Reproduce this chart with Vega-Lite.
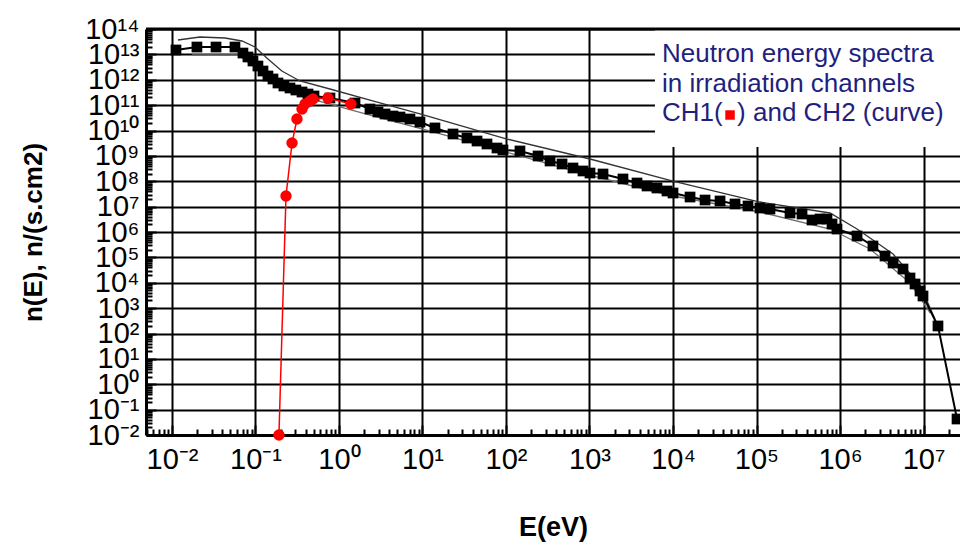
{
  "$schema": "https://vega.github.io/schema/vega-lite/v6.json",
  "width": 814,
  "height": 406,
  "autosize": {"type": "none"},
  "padding": {"left": 146, "top": 29, "right": 0, "bottom": 110},
  "background": "white",
  "config": {"view": {"stroke": null}, "font": "Liberation Sans"},
  "datasets": {
    "ch1": [
      {"E": 0.01117, "n": 1.49e13}, {"E": 0.0199, "n": 1.95e13}, {"E": 0.0337, "n": 1.95e13}, {"E": 0.0568, "n": 1.95e13},
      {"E": 0.0708, "n": 1.13e13}, {"E": 0.0813, "n": 7.89e12}, {"E": 0.0933, "n": 5.48e12}, {"E": 0.107, "n": 3.48e12},
      {"E": 0.123, "n": 2.21e12}, {"E": 0.141, "n": 1.41e12}, {"E": 0.162, "n": 1.07e12}, {"E": 0.186, "n": 7.45e11},
      {"E": 0.219, "n": 5.67e11}, {"E": 0.259, "n": 4.73e11}, {"E": 0.305, "n": 3.94e11}, {"E": 0.361, "n": 3.29e11},
      {"E": 0.426, "n": 2.74e11}, {"E": 0.502, "n": 2.29e11}, {"E": 0.78, "n": 1.91e11}, {"E": 1.556, "n": 1.21e11},
      {"E": 2.35, "n": 7.03e10}, {"E": 2.93, "n": 5.36e10}, {"E": 3.56, "n": 4.47e10}, {"E": 4.43, "n": 3.72e10},
      {"E": 5.38, "n": 3.4e10}, {"E": 7.08, "n": 2.84e10}, {"E": 9.33, "n": 2.16e10}, {"E": 14.1, "n": 1.26e10},
      {"E": 23.2, "n": 7.28e9}, {"E": 34.1, "n": 5.06e9}, {"E": 45.0, "n": 3.85e9}, {"E": 59.2, "n": 2.94e9},
      {"E": 78.0, "n": 2.04e9}, {"E": 92.0, "n": 1.71e9}, {"E": 147, "n": 1.56e9}, {"E": 242, "n": 9.9e8},
      {"E": 337, "n": 6.28e8}, {"E": 469, "n": 4.79e8}, {"E": 634, "n": 3.33e8}, {"E": 836, "n": 2.54e8},
      {"E": 1014, "n": 2.11e8}, {"E": 1452, "n": 1.93e8}, {"E": 2518, "n": 1.23e8}, {"E": 3706, "n": 8.53e7},
      {"E": 4887, "n": 6.5e7}, {"E": 6427, "n": 5.42e7}, {"E": 8472, "n": 4.13e7}, {"E": 10000, "n": 3.44e7},
      {"E": 16000, "n": 2.39e7}, {"E": 24200, "n": 1.82e7}, {"E": 36600, "n": 1.67e7}, {"E": 55300, "n": 1.27e7},
      {"E": 79100, "n": 1.06e7}, {"E": 110000, "n": 8.83e6}, {"E": 145000, "n": 8.05e6}, {"E": 252000, "n": 5.61e6},
      {"E": 351000, "n": 5.12e6}, {"E": 462000, "n": 2.97e6}, {"E": 576000, "n": 3.25e6}, {"E": 698000, "n": 3.25e6},
      {"E": 802000, "n": 2.07e6}, {"E": 920000, "n": 1.31e6}, {"E": 1600000, "n": 6.95e5}, {"E": 2480000, "n": 2.81e5},
      {"E": 3460000, "n": 1.13e5}, {"E": 4320000, "n": 6.0e4}, {"E": 5680000, "n": 3.48e4}, {"E": 6890000, "n": 1.54e4},
      {"E": 7910000, "n": 8930}, {"E": 9080000, "n": 4730}, {"E": 9860000, "n": 3000}, {"E": 14900000, "n": 198},
      {"E": 25200000, "n": 0.0427}
    ],
    "band": [
      {"curve": "upper", "E": 0.0118, "n": 3.69e13}, {"curve": "upper", "E": 0.0216, "n": 4.84e13},
      {"curve": "upper", "E": 0.0432, "n": 4.42e13}, {"curve": "upper", "E": 0.0689, "n": 3.37e13},
      {"curve": "upper", "E": 0.0986, "n": 1.95e13}, {"curve": "upper", "E": 0.141, "n": 6.58e12},
      {"curve": "upper", "E": 0.207, "n": 2.21e12}, {"curve": "upper", "E": 0.341, "n": 8.93e11},
      {"curve": "upper", "E": 0.78, "n": 4.32e11}, {"curve": "upper", "E": 2.35, "n": 1.59e11},
      {"curve": "upper", "E": 9.33, "n": 4.47e10}, {"curve": "upper", "E": 103, "n": 4.62e9},
      {"curve": "upper", "E": 1014, "n": 7.53e8}, {"curve": "upper", "E": 10000, "n": 1.02e8},
      {"curve": "upper", "E": 110000, "n": 1.52e7}, {"curve": "upper", "E": 759000, "n": 5.61e6},
      {"curve": "upper", "E": 1600000, "n": 1.31e6}, {"curve": "upper", "E": 4320000, "n": 1.36e5},
      {"curve": "upper", "E": 9080000, "n": 8150}, {"curve": "upper", "E": 13700000, "n": 372},
      {"curve": "lower", "E": 0.0174, "n": 9.45e12}, {"curve": "lower", "E": 0.0616, "n": 9.45e12},
      {"curve": "lower", "E": 0.0986, "n": 3.18e12}, {"curve": "lower", "E": 0.171, "n": 7.45e11},
      {"curve": "lower", "E": 0.341, "n": 2.29e11}, {"curve": "lower", "E": 2.35, "n": 4.08e10},
      {"curve": "lower", "E": 13.4, "n": 8.73e9}, {"curve": "lower", "E": 147, "n": 9.89e8},
      {"curve": "lower", "E": 1100, "n": 1.61e8}, {"curve": "lower", "E": 10000, "n": 2.62e7},
      {"curve": "lower", "E": 110000, "n": 6.14e6}, {"curve": "lower", "E": 759000, "n": 1.31e6},
      {"curve": "lower", "E": 2290000, "n": 2.14e5}, {"curve": "lower", "E": 6890000, "n": 9770},
      {"curve": "lower", "E": 12000000, "n": 643}
    ],
    "red": [
      {"E": 0.191, "n": 0.01}, {"E": 0.232, "n": 2.62e7}, {"E": 0.274, "n": 3.21e9}, {"E": 0.314, "n": 2.84e10},
      {"E": 0.361, "n": 7.03e10}, {"E": 0.392, "n": 1.11e11}, {"E": 0.45, "n": 1.46e11}, {"E": 0.489, "n": 1.74e11},
      {"E": 0.738, "n": 1.91e11}, {"E": 1.39, "n": 1.11e11}
    ],
    "note": [
      {"text": ["Neutron energy spectra", "\u00a0in irradiation channels", "CH1(\u00a0\u00a0) and CH2 (curve)"]}
    ]
  },
  "layer": [
    {
      "data": {"name": "band"},
      "mark": {"type": "line", "strokeWidth": 1.3},
      "encoding": {
        "x": {
          "field": "E", "type": "quantitative",
          "scale": {"type": "log", "domain": [0.004887, 27350000], "nice": false},
          "axis": {
            "title": "E(eV)",
            "titleFont": "Liberation Sans", "titleFontSize": 27, "titleFontWeight": "bold", "titleColor": "black",
            "titleX": 407, "titleY": 100, "titleBaseline": "alphabetic", "titleAlign": "center",
            "tickCount": 80,
            "labelExpr": "abs(log(datum.value)/LN10 - round(log(datum.value)/LN10)) < 0.001 ? '10' + ['⁻³','⁻²','⁻¹','⁰','¹','²','³','⁴','⁵','⁶','⁷','⁸','⁹','¹⁰','¹¹','¹²','¹³','¹⁴'][round(log(datum.value)/LN10)+3] : ''",
            "labelFont": "Liberation Sans", "labelFontSize": 29, "labelColor": "black",
            "labelOverlap": false, "labelFlush": false, "labelBound": false,
            "labelPadding": 20,
            "domainColor": "black", "domainWidth": 3,
            "tickColor": "black",
            "tickSize": {"condition": {"test": "abs(log(datum.value)/LN10 - round(log(datum.value)/LN10)) < 0.001", "value": -10}, "value": -6},
            "tickWidth": 2,
            "grid": true, "gridColor": "black", "gridWidth": 2,
            "gridOpacity": {"condition": {"test": "abs(log(datum.value)/LN10 - round(log(datum.value)/LN10)) < 0.001", "value": 1}, "value": 0}
          }
        },
        "y": {
          "field": "n", "type": "quantitative",
          "scale": {"type": "log", "domain": [0.01, 1e14], "nice": false},
          "axis": {
            "title": "n(E), n/(s.cm2)",
            "titleFont": "Liberation Sans", "titleFontSize": 26, "titleFontWeight": "bold", "titleColor": "black",
            "titleX": -100, "titleY": 203, "titleAngle": -90, "titleAlign": "center", "titleBaseline": "bottom",
            "tickCount": 100,
            "labelExpr": "abs(log(datum.value)/LN10 - round(log(datum.value)/LN10)) < 0.001 ? '10' + ['⁻³','⁻²','⁻¹','⁰','¹','²','³','⁴','⁵','⁶','⁷','⁸','⁹','¹⁰','¹¹','¹²','¹³','¹⁴'][round(log(datum.value)/LN10)+3] : ''",
            "labelFont": "Liberation Sans", "labelFontSize": 29, "labelColor": "black",
            "labelOverlap": false, "labelFlush": false, "labelBound": false,
            "labelPadding": 17,
            "domainColor": "black", "domainWidth": 3,
            "tickColor": "black",
            "tickSize": {"condition": {"test": "abs(log(datum.value)/LN10 - round(log(datum.value)/LN10)) < 0.001", "value": -10}, "value": -6},
            "tickWidth": 2,
            "grid": true, "gridColor": "black", "gridWidth": 2,
            "gridOpacity": {"condition": {"test": "abs(log(datum.value)/LN10 - round(log(datum.value)/LN10)) < 0.001", "value": 1}, "value": 0}
          }
        },
        "color": {"field": "curve", "type": "nominal", "scale": {"domain": ["upper", "lower"], "range": ["#333333", "#6e6e6e"]}, "legend": null}
      }
    },
    {
      "data": {"name": "ch1"},
      "mark": {"type": "line", "color": "black", "strokeWidth": 2, "point": {"shape": "square", "size": 115, "filled": true, "color": "black", "opacity": 1}},
      "encoding": {
        "x": {"field": "E", "type": "quantitative", "scale": {"type": "log", "domain": [0.004887, 27350000], "nice": false}},
        "y": {"field": "n", "type": "quantitative", "scale": {"type": "log", "domain": [0.01, 1e14], "nice": false}}
      }
    },
    {
      "data": {"name": "red"},
      "mark": {"type": "line", "color": "#ff0000", "strokeWidth": 1.5, "point": {"shape": "circle", "size": 130, "filled": true, "color": "#ff0000", "opacity": 1}},
      "encoding": {
        "x": {"field": "E", "type": "quantitative", "scale": {"type": "log", "domain": [0.004887, 27350000], "nice": false}},
        "y": {"field": "n", "type": "quantitative", "scale": {"type": "log", "domain": [0.01, 1e14], "nice": false}}
      }
    },
    {
      "data": {"name": "note"},
      "mark": {"type": "rect", "fill": "white", "stroke": null},
      "encoding": {
        "x": {"datum": 6080, "type": "quantitative", "scale": {"type": "log"}},
        "x2": {"datum": 27350000},
        "y": {"datum": 1e14, "type": "quantitative", "scale": {"type": "log"}},
        "y2": {"datum": 2.24e9}
      }
    },
    {
      "data": {"name": "note"},
      "mark": {"type": "rule", "color": "black", "strokeWidth": 3},
      "encoding": {
        "y": {"datum": 1e14, "type": "quantitative", "scale": {"type": "log"}}
      }
    },
    {
      "data": {"name": "note"},
      "mark": {"type": "text", "align": "left", "baseline": "alphabetic", "font": "Liberation Sans", "fontSize": 26, "lineHeight": 29.5, "color": "#1f1f80"},
      "encoding": {
        "x": {"datum": 7380, "type": "quantitative", "scale": {"type": "log"}},
        "y": {"datum": 5.0e12, "type": "quantitative", "scale": {"type": "log"}},
        "text": {"field": "text"}
      }
    },
    {
      "data": {"name": "note"},
      "mark": {"type": "point", "shape": "square", "size": 90, "filled": true, "color": "#ff0000", "opacity": 1},
      "encoding": {
        "x": {"datum": 48200, "type": "quantitative", "scale": {"type": "log"}},
        "y": {"datum": 4.08e10, "type": "quantitative", "scale": {"type": "log"}}
      }
    }
  ]
}
